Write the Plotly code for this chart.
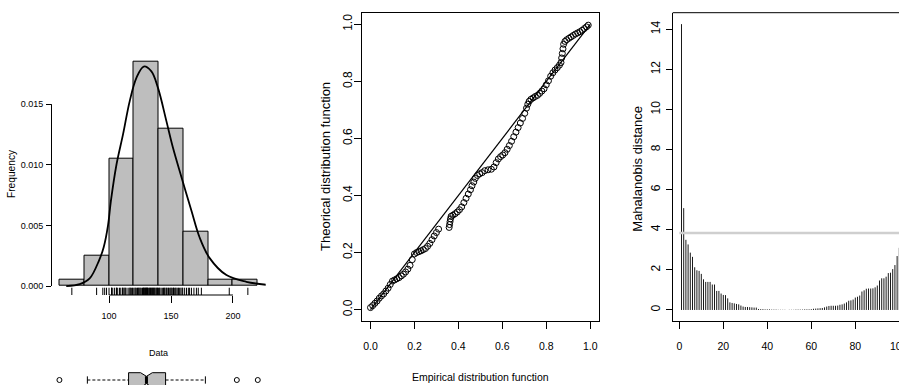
import plotly.graph_objects as go

W, H = 899, 385

# ------------------------------------------------------------------ data
hist_edges = [60, 80, 100, 120, 140, 160, 180, 200, 220]
hist_density = [0.0005, 0.0025, 0.0105, 0.0185, 0.0130, 0.0045, 0.0005, 0.0005]

dens_x = [65.5, 76.4, 84.4, 91.9, 95.7, 99.2, 101.5, 106.0, 111.3, 116.7, 122.1,
          128.0, 134.2, 139.5, 146.3, 151.6, 158.4, 166.5, 173.1, 181.2, 194.7,
          210.8, 227.0]
dens_y = [0.0000, 0.00016, 0.00063, 0.0021, 0.0032, 0.0050, 0.0070, 0.0100,
          0.0125, 0.01525, 0.01716, 0.0181, 0.0177, 0.01634, 0.0136, 0.0114,
          0.0090, 0.0062, 0.0040, 0.0023, 0.0009, 0.00035, 0.0001]

rug_values = [70,
              90, 95, 96.5, 98, 100,
              102, 102, 103, 104.5, 106, 106, 107, 108.5, 109.5, 111, 111, 112, 113,
              113, 114.5, 116, 117, 117, 118, 119, 119.5,
              121, 121, 122, 123, 123.5, 124, 125, 125, 126, 127, 127.5, 128, 128,
              128.5, 129, 129.5, 130, 130, 130.5, 131, 131, 132, 132.5, 133, 133.5,
              134, 134.5, 135, 135.5, 136, 136.5, 137, 138, 138, 139, 139, 140,
              140.5, 141, 142, 143, 144, 144.5, 145, 146, 146.5, 147.5, 148, 149,
              150, 150, 151, 152, 152, 153, 154, 154, 155.5, 156, 157, 158, 159, 159.5,
              161, 162.5, 164, 165, 166.5, 168.5, 170.5, 172, 174.5,
              197, 212]

hist_xticks = [100, 150, 200]
hist_yticks = [0.000, 0.005, 0.010, 0.015]

box_q1 = 119.5
box_median = 132.3
box_q3 = 146.0
box_whisker_lo = 90.0
box_whisker_hi = 174.5
box_notch = 4.2
box_outliers = [70, 197, 212]

pp_emp = [0.000, 0.010, 0.020, 0.030, 0.040, 0.050, 0.060, 0.070, 0.080, 0.090,
          0.100, 0.110, 0.120, 0.130, 0.140, 0.150, 0.160, 0.170, 0.180, 0.190,
          0.200, 0.210, 0.220, 0.230, 0.240, 0.250, 0.260, 0.270, 0.280, 0.290,
          0.300, 0.310,
          0.358, 0.360, 0.362, 0.364, 0.367, 0.375, 0.385, 0.395, 0.405, 0.415,
          0.425, 0.435, 0.445, 0.455, 0.462, 0.470, 0.477, 0.487, 0.497, 0.508,
          0.520, 0.535, 0.550,
          0.562, 0.572, 0.582, 0.592, 0.602, 0.612, 0.622, 0.632, 0.642, 0.652,
          0.662, 0.672, 0.682, 0.692, 0.702, 0.710, 0.716, 0.722, 0.730, 0.740,
          0.750, 0.760, 0.770, 0.780, 0.790, 0.800, 0.810, 0.820, 0.830, 0.840,
          0.850, 0.860, 0.867, 0.870, 0.873, 0.876, 0.879, 0.885, 0.893, 0.903,
          0.913, 0.923, 0.933, 0.943, 0.953, 0.963, 0.973, 0.983, 0.991]
pp_theo = [0.007, 0.014, 0.022, 0.030, 0.040, 0.048, 0.055, 0.065, 0.075, 0.088,
           0.100, 0.104, 0.108, 0.112, 0.118, 0.124, 0.132, 0.142, 0.155, 0.175,
           0.195, 0.200, 0.203, 0.206, 0.210, 0.214, 0.222, 0.232, 0.245, 0.258,
           0.270, 0.282,
           0.288, 0.298, 0.308, 0.318, 0.327, 0.331, 0.336, 0.342, 0.350, 0.360,
           0.375, 0.390, 0.405, 0.420, 0.434, 0.447, 0.460, 0.470, 0.476, 0.480,
           0.487, 0.490, 0.492,
           0.500, 0.515, 0.528, 0.536, 0.542, 0.550, 0.562, 0.575, 0.590, 0.606,
           0.622, 0.638, 0.654, 0.670, 0.688, 0.706, 0.720, 0.730, 0.737, 0.742,
           0.747, 0.751, 0.758, 0.766, 0.774, 0.788, 0.802, 0.818, 0.830, 0.840,
           0.848, 0.857, 0.866, 0.882, 0.898, 0.914, 0.930, 0.940, 0.946, 0.951,
           0.956, 0.961, 0.966, 0.970, 0.974, 0.979, 0.985, 0.991, 0.997]
pp_ref = [0.0, 1.0]
pp_ticks = [0.0, 0.2, 0.4, 0.6, 0.8, 1.0]

maha = [14.26, 5.08, 3.50, 3.27, 2.86, 2.65, 2.13, 1.98, 1.95, 1.80,
        1.53, 1.40, 1.40, 1.40, 1.27, 1.27, 0.95, 0.95, 0.82, 0.75,
        0.74, 0.58, 0.38, 0.35, 0.33, 0.30, 0.28, 0.22, 0.17, 0.15,
        0.15, 0.14, 0.13, 0.12, 0.12, 0.05, 0.04, 0.04, 0.03, 0.03,
        0.03, 0.02, 0.02, 0.02, 0.01, 0.01, 0.01, 0.01, 0.00, 0.01,
        0.01, 0.01, 0.02, 0.02, 0.02, 0.02, 0.03, 0.03, 0.03, 0.04,
        0.06, 0.07, 0.08, 0.09, 0.10, 0.13, 0.17, 0.20, 0.21, 0.21,
        0.21, 0.22, 0.26, 0.28, 0.32, 0.38, 0.46, 0.48, 0.52, 0.62,
        0.66, 0.72, 0.92, 0.98, 1.06, 1.07, 1.07, 1.08, 1.13, 1.22,
        1.47, 1.58, 1.58, 1.66, 1.84, 1.86, 2.04, 2.24, 2.69, 3.10,
        3.60]
maha_cutoff = 3.84
maha_xticks = [0, 20, 40, 60, 80, 100]
maha_yticks = [0, 2, 4, 6, 8, 10, 12, 14]

# ------------------------------------------------------------------ helpers
FONT = "Liberation Sans, Arial, Helvetica, sans-serif"
GREY = "#BEBEBE"
H_SMALL = 9      # horizontal text, left panel
H_BIG = 10.5     # horizontal text, other panels


def fx(px):
    return px / W


def fy(py):
    return 1 - py / H


fig = go.Figure()

# ---------------- panel 1 : histogram + density + rug
centers = [(a + b) / 2 for a, b in zip(hist_edges[:-1], hist_edges[1:])]
widths = [b - a for a, b in zip(hist_edges[:-1], hist_edges[1:])]
fig.add_trace(go.Bar(x=centers, y=hist_density, width=widths,
                     marker=dict(color=GREY, line=dict(color="black", width=1)),
                     xaxis="x", yaxis="y", hoverinfo="skip"))
fig.add_trace(go.Scatter(x=dens_x, y=dens_y, mode="lines",
                         line=dict(color="black", width=1.8, shape="spline"),
                         xaxis="x", yaxis="y", hoverinfo="skip"))

y1_range = [-0.00074, 0.01924]
rug_top = y1_range[0] + 0.03 * (y1_range[1] - y1_range[0])
rx, ry = [], []
for v in rug_values:
    rx += [v, v, None]
    ry += [y1_range[0], rug_top, None]
fig.add_trace(go.Scatter(x=rx, y=ry, mode="lines",
                         line=dict(color="black", width=1),
                         xaxis="x", yaxis="y", hoverinfo="skip"))

# ---------------- boxplot under histogram
h = 1.0
bx = [box_q1, box_median - box_notch, box_median, box_median + box_notch, box_q3,
      box_q3, box_median + box_notch, box_median, box_median - box_notch, box_q1, box_q1]
by = [-h, -h, -h / 2, -h, -h, h, h, h / 2, h, h, -h]
fig.add_trace(go.Scatter(x=bx, y=by, mode="lines", fill="toself", fillcolor=GREY,
                         line=dict(color="black", width=1),
                         xaxis="x4", yaxis="y4", hoverinfo="skip"))
fig.add_trace(go.Scatter(x=[box_median, box_median], y=[-h / 2, h / 2], mode="lines",
                         line=dict(color="black", width=3),
                         xaxis="x4", yaxis="y4", hoverinfo="skip"))
fig.add_trace(go.Scatter(x=[box_whisker_lo, box_q1, None, box_q3, box_whisker_hi],
                         y=[0, 0, None, 0, 0], mode="lines",
                         line=dict(color="black", width=1, dash="3px,2px"),
                         xaxis="x4", yaxis="y4", hoverinfo="skip"))
fig.add_trace(go.Scatter(x=[box_whisker_lo, box_whisker_lo, None, box_whisker_hi, box_whisker_hi],
                         y=[-h / 2, h / 2, None, -h / 2, h / 2], mode="lines",
                         line=dict(color="black", width=1),
                         xaxis="x4", yaxis="y4", hoverinfo="skip"))
fig.add_trace(go.Scatter(x=box_outliers, y=[0] * len(box_outliers), mode="markers",
                         marker=dict(symbol="circle-open", size=5, color="black",
                                     line=dict(width=1)),
                         xaxis="x4", yaxis="y4", hoverinfo="skip"))
all_box = box_outliers + [box_whisker_lo, box_whisker_hi]
bmin, bmax = min(all_box), max(all_box)
box_range = [bmin - 0.04 * (bmax - bmin), bmax + 0.04 * (bmax - bmin)]

# ---------------- panel 2 : P-P plot
fig.add_trace(go.Scatter(x=pp_ref, y=pp_ref, mode="lines",
                         line=dict(color="black", width=1.2),
                         xaxis="x2", yaxis="y2", hoverinfo="skip"))
fig.add_trace(go.Scatter(x=pp_emp, y=pp_theo, mode="markers",
                         marker=dict(symbol="circle-open", size=6, color="black",
                                     line=dict(width=1)),
                         xaxis="x2", yaxis="y2", hoverinfo="skip"))

# ---------------- panel 3 : Mahalanobis distance
idx = list(range(1, len(maha) + 1))
mx, my = [], []
for i, d in zip(idx, maha):
    mx += [i, i, None]
    my += [0, d, None]
fig.add_trace(go.Scatter(x=mx, y=my, mode="lines",
                         line=dict(color="#1a1a1a", width=1),
                         xaxis="x3", yaxis="y3", hoverinfo="skip"))
fig.add_trace(go.Scatter(x=[0, len(maha)], y=[maha_cutoff, maha_cutoff], mode="lines",
                         line=dict(color="#CFCFCF", width=2.5),
                         xaxis="x3", yaxis="y3", hoverinfo="skip"))

# ------------------------------------------------------------------ layout
tick_common = dict(showgrid=False, zeroline=False, ticks="outside",
                   tickcolor="black", tickwidth=1)

P1 = dict(l=51.5, r=265.7, t=52.7, b=295)
P2 = dict(l=361.7, r=599.0, t=12.9, b=321)
P3 = dict(l=672.7, r=899.0, t=12.7, b=321)

fig.update_layout(
    width=W, height=H, margin=dict(l=0, r=0, t=0, b=0),
    paper_bgcolor="white", plot_bgcolor="white", showlegend=False,
    bargap=0,
    xaxis=dict(domain=[fx(P1["l"]), fx(P1["r"])], range=[53.6, 226.4], anchor="y",
               showline=False, tickvals=hist_xticks, ticklen=6.5,
               ticklabelstandoff=6,
               tickfont=dict(family=FONT, size=H_SMALL, color="black"), **tick_common),
    yaxis=dict(domain=[fy(P1["b"]), fy(P1["t"])], range=y1_range, anchor="x",
               showline=False, tickvals=hist_yticks,
               ticktext=["%.3f" % v for v in hist_yticks], ticklen=4.5,
               ticklabelstandoff=1,
               tickfont=dict(family=FONT, size=H_SMALL, color="black"), **tick_common),
    xaxis4=dict(domain=[fx(P1["l"]), fx(P1["r"])], range=box_range, anchor="y4",
                visible=False),
    yaxis4=dict(domain=[0, 20 / H], range=[-5 / 7.3, 15 / 7.3], anchor="x4",
                visible=False),
    xaxis2=dict(domain=[fx(P2["l"]), fx(P2["r"])], range=[-0.04, 1.04], anchor="y2",
                showline=True, mirror=True, linecolor="black", linewidth=1,
                tickvals=pp_ticks, ticktext=["%.1f" % v for v in pp_ticks], ticklen=7,
                ticklabelstandoff=8,
                tickfont=dict(family=FONT, size=H_BIG, color="black"), **tick_common),
    yaxis2=dict(domain=[fy(P2["b"]), fy(P2["t"])], range=[-0.04, 1.04], anchor="x2",
                showline=True, mirror=True, linecolor="black", linewidth=1,
                tickvals=pp_ticks, ticktext=["%.1f" % v for v in pp_ticks], ticklen=6.5,
                tickangle=-90, ticklabelstandoff=-3,
                tickfont=dict(family=FONT, size=12, color="black"), **tick_common),
    xaxis3=dict(domain=[fx(P3["l"]), 1.0], range=[-3, 99.86], anchor="y3",
                showline=True, linecolor="black", linewidth=1,
                tickvals=maha_xticks, ticklen=7, ticklabelstandoff=8,
                tickfont=dict(family=FONT, size=H_BIG, color="black"), **tick_common),
    yaxis3=dict(domain=[fy(P3["b"]), fy(P3["t"])], range=[-0.55, 14.83], anchor="x3",
                showline=True, linecolor="black", linewidth=1,
                tickvals=maha_yticks, ticklen=6, tickangle=-90, ticklabelstandoff=1,
                tickfont=dict(family=FONT, size=12, color="black"), **tick_common),
)

shapes = [
    # panel 1 axis lines spanning first to last tick (R style)
    dict(type="line", xref="x", yref="paper", x0=hist_xticks[0], x1=hist_xticks[-1],
         y0=fy(P1["b"]), y1=fy(P1["b"]), line=dict(color="black", width=1)),
    dict(type="line", xref="paper", yref="y", x0=fx(P1["l"]), x1=fx(P1["l"]),
         y0=hist_yticks[0], y1=hist_yticks[-1], line=dict(color="black", width=1)),
    # panel 3 top frame line (right side cropped)
    dict(type="line", xref="paper", yref="paper", x0=fx(P3["l"]), x1=1.0,
         y0=fy(P3["t"]), y1=fy(P3["t"]), line=dict(color="black", width=1)),
]
fig.update_layout(shapes=shapes)

ann = [
    dict(text="Frequency", x=fx(12), y=fy(174), textangle=-90,
         font=dict(family=FONT, size=10.2, color="black")),
    dict(text="Data", x=fx(158), y=fy(353),
         font=dict(family=FONT, size=H_SMALL, color="black")),
    dict(text="Theorical distribution function", x=fx(325), y=fy(167), textangle=-90,
         font=dict(family=FONT, size=13, color="black")),
    dict(text="Empirical distribution function", x=fx(480), y=fy(376.5),
         font=dict(family=FONT, size=H_BIG, color="black")),
    dict(text="Mahalanobis distance", x=fx(636.7), y=fy(169), textangle=-90,
         font=dict(family=FONT, size=13, color="black")),
    # last x tick label of panel 3, cut by the right edge of the picture
    dict(text=str(maha_xticks[-1]), x=fx(899.3), y=fy(345.7),
         font=dict(family=FONT, size=H_BIG, color="black")),
]
for a in ann:
    a.update(xref="paper", yref="paper", xanchor="center", yanchor="middle",
             showarrow=False)
fig.update_layout(annotations=ann)

fig.write_html("out.html")
